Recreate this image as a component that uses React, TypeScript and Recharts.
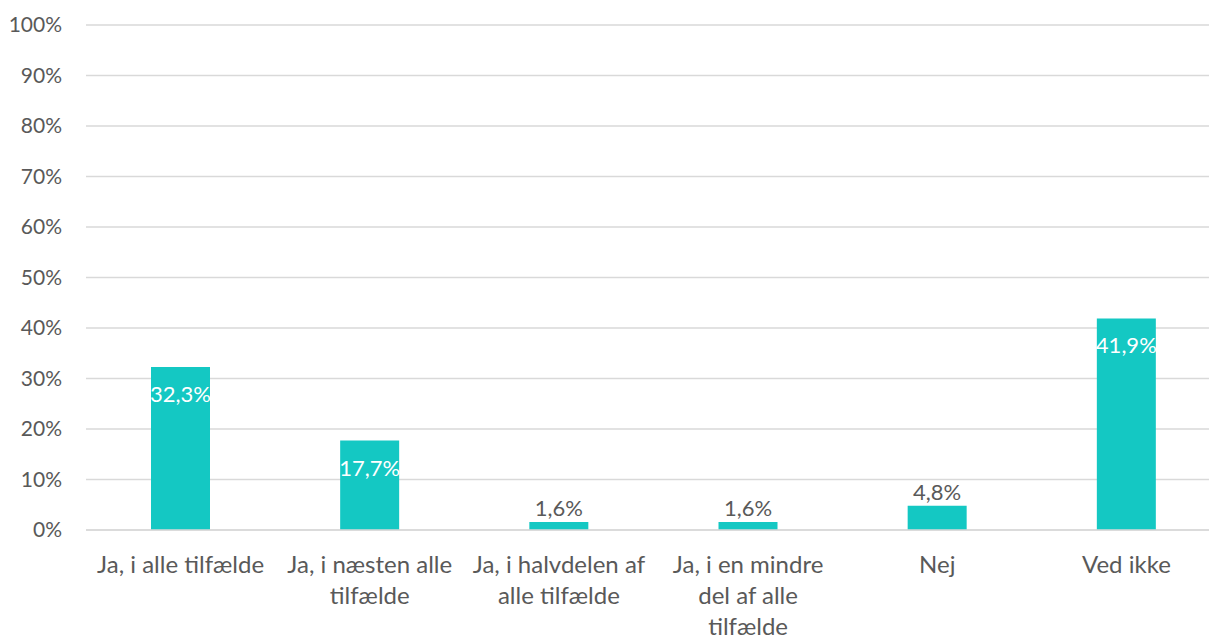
import { BarChart, Bar, XAxis, YAxis, CartesianGrid, LabelList } from 'recharts'

// categories, line breaks as in the source chart
const categories = [
  'Ja, i alle tilfælde',
  'Ja, i næsten alle\ntilfælde',
  'Ja, i halvdelen af\nalle tilfælde',
  'Ja, i en mindre\ndel af alle\ntilfælde',
  'Nej',
  'Ved ikke',
]
const shares = [0.323, 0.177, 0.016, 0.016, 0.048, 0.419]
const yTicks = [0, 0.1, 0.2, 0.3, 0.4, 0.5, 0.6, 0.7, 0.8, 0.9, 1]

const data = categories.map((name, i) => ({ name, value: shares[i] }))

const FONT = 'Lato, "Open Sans", sans-serif'
const TEXT = '#595959'
const BAR = '#14c8c3'

const pct = (v: number) => `${(v * 100).toFixed(1).replace('.', ',')}%`

function CategoryTick(props: any) {
  const { x, y, payload } = props
  const lines = String(payload.value).split('\n')
  return (
    <text x={x} y={y} textAnchor="middle" fill={TEXT} fontSize={24} fontFamily={FONT}>
      {lines.map((l, i) => (
        <tspan key={i} x={x} dy={i === 0 ? 43 : 31}>
          {l}
        </tspan>
      ))}
    </text>
  )
}

function ValueLabel(props: any) {
  const { x, y, width, value } = props
  const inside = value > 0.1
  return (
    <text
      x={x + width / 2}
      y={inside ? y + 35 : y - 6}
      textAnchor="middle"
      fill={inside ? '#ffffff' : TEXT}
      fontSize={22}
      fontFamily={FONT}
    >
      {pct(value)}
    </text>
  )
}

export default function App() {
  return (
    <div style={{ position: 'absolute', left: 0, top: 0, width: 1209, height: 639, overflow: 'hidden', background: '#fff' }}>
      <BarChart
        width={1223}
        height={639}
        data={data}
        margin={{ top: 25, right: 2, left: 0, bottom: 0 }}
      >
        <CartesianGrid vertical={false} stroke="#d9d9d9" strokeWidth={1.3} />
        <XAxis
          dataKey="name"
          height={109}
          tickLine={false}
          tickSize={0}
          tickMargin={0}
          axisLine={{ stroke: '#d9d9d9', strokeWidth: 1.3 }}
          tick={<CategoryTick />}
          interval={0}
        />
        <YAxis
          width={86}
          domain={[0, 1]}
          ticks={yTicks}
          axisLine={false}
          tickLine={false}
          tickSize={0}
          tickMargin={24}
          tickFormatter={(v: number) => `${Math.round(v * 100)}%`}
          tick={{ fill: TEXT, fontSize: 21, fontFamily: FONT }}
        />
        <Bar dataKey="value" fill={BAR} barSize={59} isAnimationActive={false}>
          <LabelList dataKey="value" content={<ValueLabel />} />
        </Bar>
      </BarChart>
    </div>
  )
}
